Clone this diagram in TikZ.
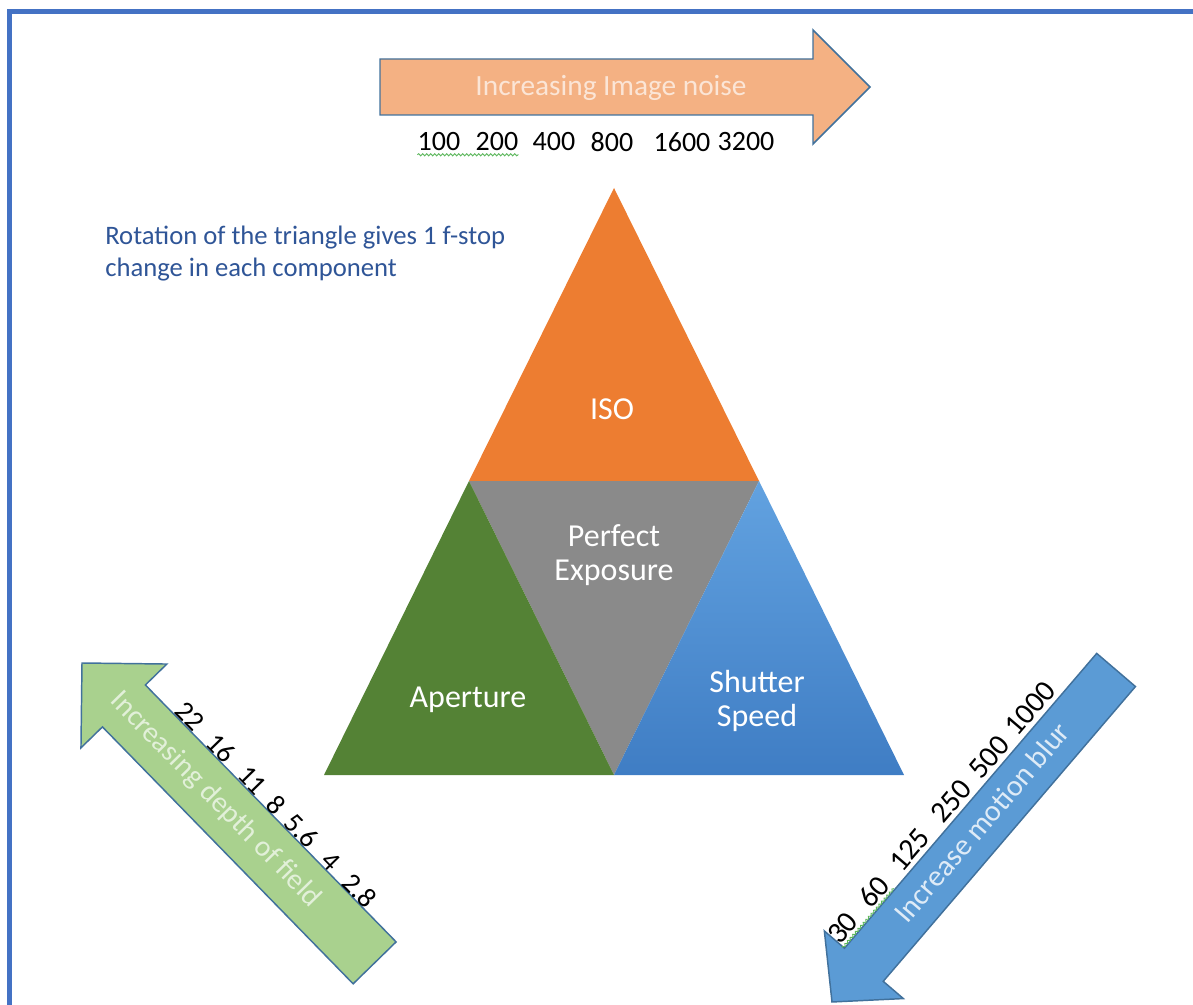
\documentclass[tikz,border=0pt]{standalone}
\usepackage{fontspec}
\setmainfont{Carlito}
\usepackage{xcolor}
\usetikzlibrary{decorations.pathmorphing}
\definecolor{frameblue}{HTML}{4472C4}
\definecolor{isoorange}{HTML}{ED7D31}
\definecolor{expgray}{HTML}{8A8A8A}
\definecolor{apgreen}{HTML}{548235}
\definecolor{shutlight}{HTML}{62A2E0}
\definecolor{shutdark}{HTML}{3F7DC4}
\definecolor{noiseorange}{HTML}{F4B183}
\definecolor{arrowline}{HTML}{41719C}
\definecolor{dofgreen}{HTML}{A9D18E}
\definecolor{blurblue}{HTML}{5B9BD5}
\definecolor{noisetext}{HTML}{FBE5D6}
\definecolor{doftext}{HTML}{E2F0D9}
\definecolor{blurtext}{HTML}{DEEBF7}
\definecolor{notetext}{HTML}{2F5597}
\definecolor{spellgreen}{HTML}{5DB75D}

\begin{document}
\begin{tikzpicture}[x=0.75pt,y=-0.75pt]
            \tikzset{
            tri label/.style={text=white,font=\fontsize{24}{25.5}\selectfont,align=center,inner sep=0},
            arrow box/.style={draw=arrowline,line width=1.1pt,line join=miter},
            arrow text/.style={font=\fontsize{22}{26}\selectfont,inner sep=0},
            stop num/.style={font=\fontsize{21}{25}\selectfont,text=black,inner sep=0},
            spell mark/.style={draw=spellgreen,line width=0.7pt,decorate,decoration={snake,amplitude=0.8pt,segment length=3pt}}
            }
            \useasboundingbox (0,0) rectangle (1193,1005);
            \draw[frameblue,line width=3.75pt,line join=miter] (9.5,1005) -- (9.5,11.5) -- (1193,11.5);

            \coordinate (top) at (614,188);
            \coordinate (midL) at (469,481);
            \coordinate (midR) at (759,481);
            \coordinate (botL) at (324,775);
            \coordinate (botM) at (614,775);
            \coordinate (botR) at (904,775);
            \fill[expgray] (midL) -- (midR) -- (botM) -- cycle;
            \fill[isoorange] (top) -- (midR) -- (midL) -- cycle;
            \fill[apgreen] (midL) -- (botM) -- (botL) -- cycle;
            \shade[top color=shutlight,bottom color=shutdark] (midR) -- (botR) -- (botM) -- cycle;

            \node[tri label] (iso) at (612,409) {ISO};
            \node[tri label] (exposure) at (614,555) {Perfect\\Exposure};
            \node[tri label] (aperture) at (468,700) {Aperture};
            \node[tri label] (shutter) at (757,701) {Shutter\\Speed};

            \node[anchor=west,align=left,text=notetext,font=\fontsize{20}{24}\selectfont,inner sep=0] (note) at (105,254)
                {Rotation of the triangle gives 1 f-stop\\change in each component};

            \draw[arrow box,fill=noiseorange] (870,87) -- (813,30) -- (813,59) -- (380,59) -- (380,115) -- (813,115) -- (813,144) -- cycle;
            \node[arrow text,text=noisetext] (noise) at (611,88) {Increasing Image noise};
            \foreach \val/\xx in {100/439,200/497,400/554,800/612,1600/682,3200/746}
                \node[stop num] (iso\val) at (\xx,142) {\val};
            \draw[spell mark] ([yshift=-2.5pt]iso100.south west) -- ([yshift=-2.5pt]iso200.south east);

            \begin{scope}[shift={(82,663)},rotate=-45.7]
            \draw[arrow box,fill=dofgreen] (0,0) -- (60,-60) -- (60,-30) -- (419,-30) -- (419,30) -- (60,30) -- (60,60) -- cycle;
            \node[arrow text,text=doftext,rotate=-45.7] (dof) at (191,0) {Increasing depth of field};
            \foreach \val/\pos [count=\i] in {22/114,16/158,11/203,8/237,5.6/273,4/316,2.8/357}
                \node[stop num,rotate=-45.7] (fstop\i) at (\pos,-40) {\val};
            \end{scope}

            \begin{scope}[shift={(832,1002)},rotate=49.45]
            \draw[arrow box,fill=blurblue] (0,0) -- (49,-52) -- (49,-25.5) -- (437,-25.5) -- (437,25.5) -- (49,25.5) -- (49,52) -- cycle;
            \node[arrow text,text=blurtext,rotate=49.45,font=\fontsize{22.5}{26}\selectfont] (blur) at (234,-3) {Increase motion blur};
            \foreach \val/\pos [count=\i] in {30/63,60/111,125/166,250/230,500/288,1000/352}
                \node[stop num,rotate=49.45,font=\fontsize{22.5}{26}\selectfont] (speed\i) at (\pos,-40) {\val};
            \draw[spell mark] ([yshift=-2pt]speed1.south west) -- ([yshift=-2pt]speed2.south east);
            \end{scope}
\end{tikzpicture}
\end{document}
